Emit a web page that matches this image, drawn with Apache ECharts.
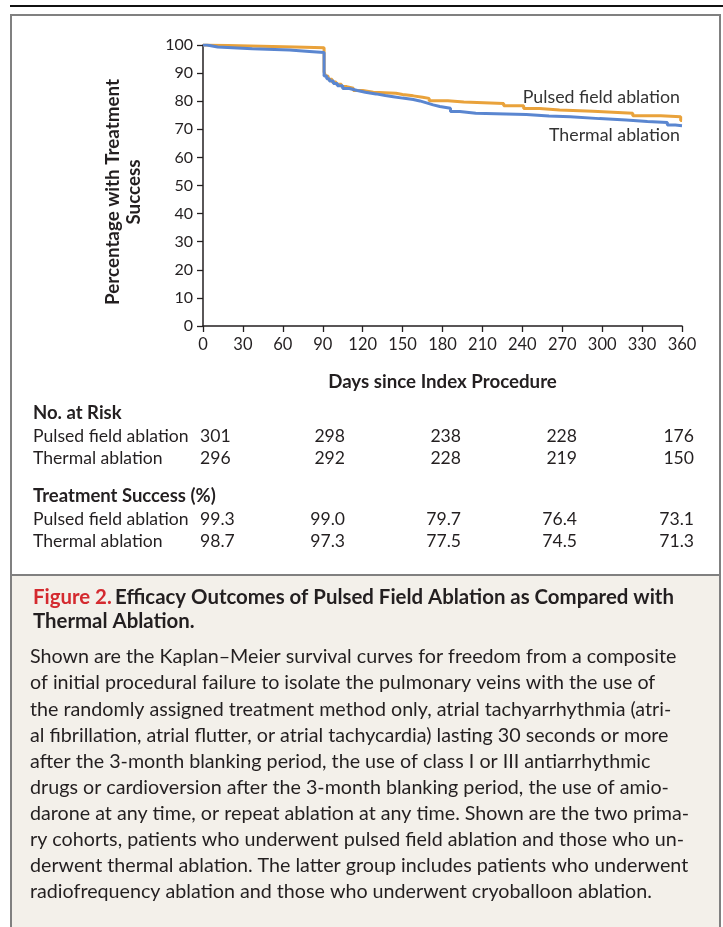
<!DOCTYPE html>
<html><head><meta charset="utf-8">
<script src="https://cdn.jsdelivr.net/npm/echarts@6/dist/echarts.min.js"></script>
<style>html,body{margin:0;padding:0;background:#fff}#c{width:723px;height:927px}</style>
</head><body><div id="c"></div>
<script>
// ---- data ----
var xTicks = [0,30,60,90,120,150,180,210,240,270,300,330,360];
var yTicks = [0,10,20,30,40,50,60,70,80,90,100];
var pulsedCurve = [[0,100],[2,99.3],[69,99.0],[91,90.5],[92,89],[94,87.8],[97,86.8],[100,86],[104,85.2],[108,84.6],[113,83.8],[120,83.2],[128,82.8],[145,82.4],[150,81.9],[158,81.4],[165,81.0],[170,80.2],[184,79.7],[196,79.2],[226,78.4],[241,77.4],[253,76.9],[268,76.4],[293,75.7],[323,74.8],[344,74.5],[359,73.1],[360,73.1]];
var thermalCurve = [[0,100],[3,99.3],[11,98.7],[37,98.2],[65,97.7],[80,97.3],[91,89],[93,88],[95,87.2],[98,86.3],[101,85.5],[105,84.5],[110,83.8],[116,83.2],[122,82.6],[130,82.0],[137,81.6],[143,81.1],[150,80.6],[158,80.1],[163,79.4],[168,78.7],[173,78.1],[178,77.5],[186,76.3],[193,75.7],[205,75.3],[243,74.7],[260,74.5],[276,73.8],[298,73.3],[318,72.8],[334,72.4],[349,71.5],[355,71.3],[360,71.3]];
var seriesNames = ['Pulsed field ablation','Thermal ablation'];
var riskTitle = 'No. at Risk';
var riskPulsed = ['301','298','238','228','176'];
var riskThermal = ['296','292','228','219','150'];
var successTitle = 'Treatment Success (%)';
var successPulsed = ['99.3','99.0','79.7','76.4','73.1'];
var successThermal = ['98.7','97.3','77.5','74.5','71.3'];
var xName = 'Days since Index Procedure';
var yName = 'Percentage with Treatment\nSuccess';
var figLabel = 'Figure 2.';
var figTitle1 = 'Efficacy Outcomes of Pulsed Field Ablation as Compared with';
var figTitle2 = 'Thermal Ablation.';
var captionLines = [
'Shown are the Kaplan\u2013Meier survival curves for freedom from a composite',
'of initial procedural failure to isolate the pulmonary veins with the use of',
'the randomly assigned treatment method only, atrial tachyarrhythmia (atri-',
'al fibrillation, atrial flutter, or atrial tachycardia) lasting 30 seconds or more',
'after the 3-month blanking period, the use of class I or III antiarrhythmic',
'drugs or cardioversion after the 3-month blanking period, the use of amio-',
'darone at any time, or repeat ablation at any time. Shown are the two prima-',
'ry cohorts, patients who underwent pulsed field ablation and those who un-',
'derwent thermal ablation. The latter group includes patients who underwent',
'radiofrequency ablation and those who underwent cryoballoon ablation.'
];

// ---- layout ----
var FONT = 'Lato, "Open Sans", sans-serif';
var ORANGE = '#E9A23B', BLUE = '#5A86D0', TXT = '#231f20';
var firstColX = 200, colRight = [345, 461, 577, 694];
var g = [];
// frame
g.push({type:'rect', z:-10, shape:{x:10,y:5,width:713,height:2}, style:{fill:'#111'}});
g.push({type:'rect', z:-10, shape:{x:11,y:15,width:709,height:560}, style:{fill:'#fff',stroke:'#808080',lineWidth:2}});
g.push({type:'rect', z:-10, shape:{x:11,y:575,width:709,height:360}, style:{fill:'#F3F0EA',stroke:'#808080',lineWidth:2}});
function txt(t, x, y, opt){
  opt = opt || {};
  g.push({type:'text', z:10, style:{text:t, x:x, y:y, fill:opt.fill||TXT,
    font:(opt.bold?'bold ':'')+(opt.size||16)+'px '+FONT,
    textAlign:opt.align||'left', align:opt.align||'left', textVerticalAlign:'middle', verticalAlign:'middle'}});
}
// y axis title
g.push({type:'text', z:10, x:123, y:192, rotation:Math.PI/2, style:{text:yName, x:0, y:0, fill:TXT,
  font:'bold 18.8px '+FONT, lineHeight:21, textAlign:'center', align:'center', textVerticalAlign:'middle', verticalAlign:'middle'}});
// curve labels
txt(seriesNames[0], 680, 97, {align:'right', size:17.8, fill:'#333'});
txt(seriesNames[1], 680, 135, {align:'right', size:17.8, fill:'#333'});
// risk table
function row(label, vals, y){
  txt(label, 33, y, {size:17.6});
  txt(vals[0], firstColX, y, {size:17.6});
  for (var i=1;i<vals.length;i++) txt(vals[i], colRight[i-1], y, {size:17.6, align:'right'});
}
txt(riskTitle, 33, 413, {bold:true, size:18.5});
row(seriesNames[0], riskPulsed, 436);
row(seriesNames[1], riskThermal, 458);
txt(successTitle, 33, 496, {bold:true, size:18.5});
row(seriesNames[0], successPulsed, 519);
row(seriesNames[1], successThermal, 541);
// caption
g.push({type:'text', z:10, style:{text:'{r|'+figLabel+'} {b|'+figTitle1+'}', x:33, y:597,
  textVerticalAlign:'middle', verticalAlign:'middle',
  rich:{r:{fill:'#D42A2F', font:'bold 20.4px '+FONT}, b:{fill:TXT, font:'bold 20.4px '+FONT}}}});
txt(figTitle2, 33, 621, {bold:true, size:20.4});
for (var i=0;i<captionLines.length;i++) txt(captionLines[i], 30, 657 + i*26.1, {size:19.7});

var chart = echarts.init(document.getElementById('c'));
chart.setOption({
  animation:false,
  backgroundColor:'transparent',
  grid:{left:203, right:41, top:45, bottom:601, containLabel:false},
  xAxis:{type:'value', min:xTicks[0], max:xTicks[xTicks.length-1], interval:30,
    name:xName, nameLocation:'middle', nameGap:46,
    nameTextStyle:{fontFamily:FONT, fontWeight:'bold', fontSize:18.7, color:TXT},
    axisLine:{lineStyle:{color:'#231f20', width:1.5}},
    axisTick:{show:true, length:6, lineStyle:{color:'#231f20', width:1.3}},
    axisLabel:{fontFamily:FONT, fontSize:16.5, color:TXT, margin:10},
    splitLine:{show:false}},
  yAxis:{type:'value', min:yTicks[0], max:yTicks[yTicks.length-1], interval:10,
    axisLine:{show:true, lineStyle:{color:'#231f20', width:1.5}},
    axisTick:{show:true, length:6, lineStyle:{color:'#231f20', width:1.3}},
    axisLabel:{fontFamily:FONT, fontSize:16, color:TXT, margin:10},
    splitLine:{show:false}},
  series:[
    {name:seriesNames[0], type:'line', step:'end', data:pulsedCurve, showSymbol:false, symbol:'none',
      lineStyle:{color:ORANGE, width:3}, z:3},
    {name:seriesNames[1], type:'line', step:'end', data:thermalCurve, showSymbol:false, symbol:'none',
      lineStyle:{color:BLUE, width:3}, z:4}
  ],
  graphic:g
});
</script></body></html>
